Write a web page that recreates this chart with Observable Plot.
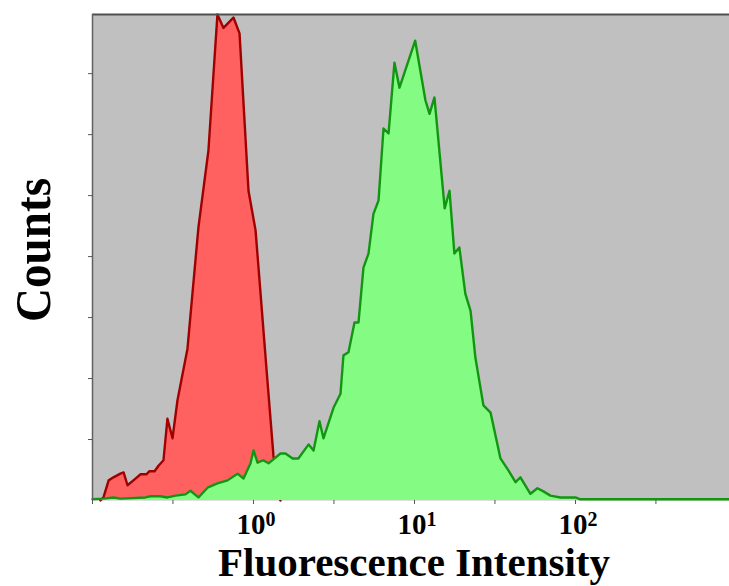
<!DOCTYPE html>
<html>
<head>
<meta charset="utf-8">
<script src="https://cdn.jsdelivr.net/npm/d3@7"></script>
<script src="https://cdn.jsdelivr.net/npm/@observablehq/plot@0.6"></script>
<style>
  html, body { margin: 0; padding: 0; background: white; }
  #chart svg { display: block; }
</style>
</head>
<body>
<div id="chart"></div>
<script>
// Fluorescence intensity (x) and counts (y)
const redX = [0.112,0.117,0.126,0.135,0.149,0.156,0.165,0.185,0.199,0.216,0.226,0.243,0.257,0.276,0.292,0.314,0.337,0.389,0.455,0.525,0.597,0.651,0.751,0.819,0.931,1.03,1.22,1.33,1.41,1.47];
const redY = [0,5,33,38,44,46,25,36,43,43,48,48,57,66,134,102,164,249,448,574,797,775,792,766,508,443,197,74,16,0];

const greenX = [0.1,0.117,0.135,0.149,0.213,0.229,0.264,0.292,0.328,0.378,0.406,0.455,0.518,0.597,0.690,0.796,0.867,0.958,1.0,1.06,1.15,1.24,1.47,1.58,1.75,1.90,2.20,2.36,2.57,2.72,3.14,3.47,3.62,3.89,4.24,4.49,4.82,5.18,5.56,5.98,6.42,6.90,7.51,8.07,10.1,11.7,12.4,13.3,15.4,16.5,17.7,19.0,20.7,22.3,23.9,26.8,29.7,34.2,38.4,42.4,45.5,52.5,58.0,63.2,69.9,80.7,100,107,905];
const greenY = [2,3,5,3,5,7,7,5,8,10,16,5,21,28,33,44,36,61,82,62,66,61,77,77,69,69,92,82,130,102,152,175,238,243,292,292,382,405,470,492,610,602,718,677,754,656,634,661,479,508,405,415,339,311,234,156,144,69,49,30,38,11,20,15,8,5,5,2,2];

const xDomain = [0.1, 905];
const yDomain = [0, 797];
const xTicks = [0.1, 0.316, 1, 3.16, 10, 31.6, 100, 316];
const yTicks = [100, 200, 300, 400, 500, 600, 700];
const labelTicks = [1, 10, 100];
const labelExp = ["0", "1", "2"];

const red = redX.map((x, i) => ({x, y: redY[i]}));
const green = greenX.map((x, i) => ({x, y: greenY[i]}));
const labels = labelTicks.map((x, i) => ({x, e: labelExp[i]}));

const font = "'Liberation Serif', 'Times New Roman', serif";

const chart = Plot.plot({
  width: 729,
  height: 586,
  marginTop: 14,
  marginBottom: 86,
  marginLeft: 92,
  marginRight: 0,
  style: {background: "white", fontFamily: font, overflow: "visible"},
  x: {type: "log", domain: xDomain},
  y: {domain: yDomain},
  marks: [
    Plot.frame({fill: "#c0c0c0", stroke: null}),
    Plot.areaY(red, {x: "x", y: "y", fill: "#ff6161"}),
    Plot.lineY(red, {x: "x", y: "y", stroke: "#a00000", strokeWidth: 2.4}),
    Plot.areaY(green, {x: "x", y: "y", fill: "#84fc84"}),
    Plot.lineY(green, {x: "x", y: "y", stroke: "#129612", strokeWidth: 2.4}),
    Plot.ruleY([yDomain[1]], {stroke: "#505050", strokeWidth: 2}),
    Plot.ruleX([xDomain[0]], {stroke: "#606060", strokeWidth: 1.5}),
    Plot.axisX({ticks: xTicks, tickFormat: () => "", tickSize: 4, stroke: "#555", label: null}),
    Plot.axisY({ticks: yTicks, tickFormat: () => "", tickSize: 4, stroke: "#555", label: null}),
    Plot.text(labels, {x: "x", text: () => "10", frameAnchor: "bottom", lineAnchor: "bottom", dy: 33, dx: 12, textAnchor: "end", fontSize: 29, fontWeight: "bold", fill: "black"}),
    Plot.text(labels, {x: "x", text: "e", frameAnchor: "bottom", lineAnchor: "bottom", dy: 25, dx: 12, textAnchor: "start", fontSize: 20, fontWeight: "bold", fill: "black"})
  ]
});

const svg = d3.select(chart);
svg.append("text")
  .attr("x", 414).attr("y", 576)
  .attr("text-anchor", "middle")
  .attr("font-family", font)
  .attr("font-weight", "bold")
  .attr("font-size", 41)
  .attr("textLength", 392)
  .attr("lengthAdjust", "spacingAndGlyphs")
  .attr("fill", "black")
  .text("Fluorescence Intensity");
svg.append("text")
  .attr("transform", "translate(50,250) rotate(-90)")
  .attr("text-anchor", "middle")
  .attr("font-family", font)
  .attr("font-weight", "bold")
  .attr("font-size", 50)
  .attr("textLength", 144)
  .attr("lengthAdjust", "spacingAndGlyphs")
  .attr("fill", "black")
  .text("Counts");

document.getElementById("chart").appendChild(chart);
</script>
</body>
</html>
